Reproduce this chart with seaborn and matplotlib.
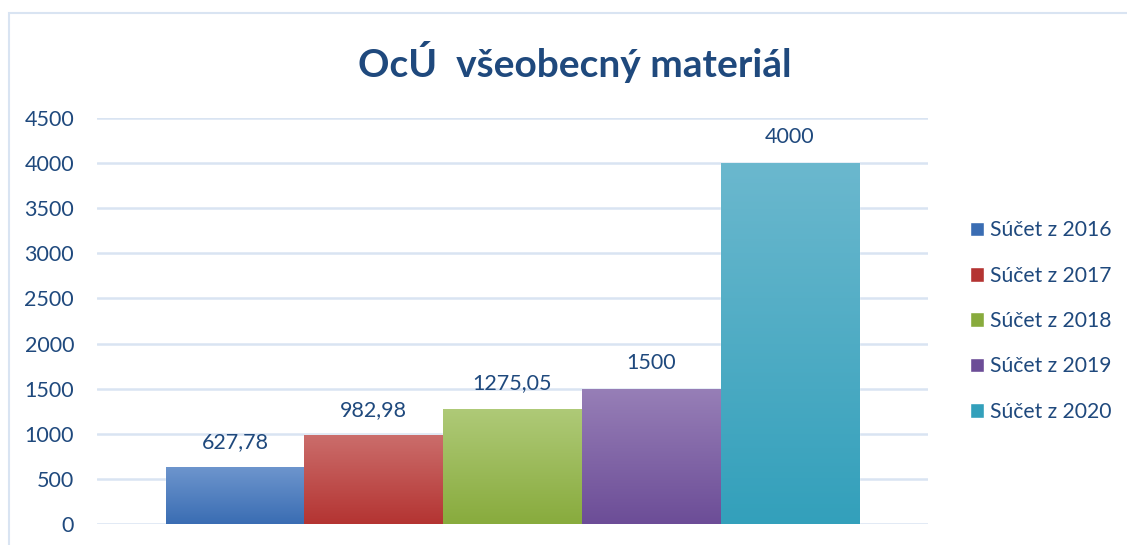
import matplotlib
matplotlib.use("Agg")
import matplotlib.pyplot as plt
import numpy as np
import pandas as pd
import seaborn as sns
from matplotlib.colors import LinearSegmentedColormap
from matplotlib.patches import Rectangle

series = ["Súčet z 2016", "Súčet z 2017", "Súčet z 2018", "Súčet z 2019", "Súčet z 2020"]
values = [627.78, 982.98, 1275.05, 1500, 4000]
value_labels = ["627,78", "982,98", "1275,05", "1500", "4000"]
top_colors = ["#6d95cd", "#cb6d6b", "#afca78", "#977fb7", "#6bb8ce"]
bottom_colors = ["#3a6db3", "#b43432", "#88ab3d", "#6c4d97", "#33a0bb"]

TEXT = "#1f497d"
GRID = "#d9e4f2"

df = pd.DataFrame({"group": [""] * len(series), "series": series, "value": values})

sns.set_theme(style="white")
plt.rcParams["font.family"] = ["Lato", "DejaVu Sans"]

fig = plt.figure(figsize=(11.27, 5.45), dpi=100)
ax = fig.add_axes([97 / 1127, 21 / 545, 831 / 1127, 406 / 545])

sns.barplot(data=df, x="group", y="value", hue="series", palette=bottom_colors,
            width=0.835, saturation=1, ax=ax, legend=True)

ax.set_ylim(0, 4500)
ax.set_xlim(-0.5, 0.5)
ax.set_yticks(np.arange(0, 4501, 500))
ax.yaxis.grid(True, color=GRID, linewidth=1.8)
ax.set_axisbelow(True)
for s in ax.spines.values():
    s.set_visible(False)
ax.tick_params(axis="y", length=0, labelsize=15.5, labelcolor=TEXT, pad=16.5)
ax.set_xticks([])
ax.set_xlabel("")
ax.set_ylabel("")

# vertical gradient on each bar
grad = np.linspace(0, 1, 256).reshape(-1, 1)
for patch, c_top, c_bot, lab in zip(ax.patches, top_colors, bottom_colors, value_labels):
    x0, y0 = patch.get_x(), patch.get_y()
    w, h = patch.get_width(), patch.get_height()
    cmap = LinearSegmentedColormap.from_list("g", [c_bot, c_top])
    im = ax.imshow(grad, cmap=cmap, aspect="auto", origin="lower",
                   extent=[x0, x0 + w, y0, y0 + h], zorder=patch.get_zorder() + 0.1)
    im.set_clip_path(patch)
    ax.annotate(lab, (x0 + w / 2, h), xytext=(0, 18.5), textcoords="offset points",
                ha="center", va="center", fontsize=15.5, color=TEXT)
ax.set_xlim(-0.5, 0.5)
ax.set_ylim(0, 4500)

handles = [Rectangle((0, 0), 1, 1, facecolor=c) for c in bottom_colors]
leg = ax.legend(handles, series, loc="center left", bbox_to_anchor=(1.04, 0.5),
                frameon=False, fontsize=15.2, handlelength=0.68, handleheight=0.68,
                handletextpad=0.3, labelspacing=1.2, borderaxespad=0)
for t in leg.get_texts():
    t.set_color(TEXT)

fig.text(575 / 1127, 1 - 62 / 545, "OcÚ  všeobecný materiál", ha="center", va="center",
         fontsize=28, fontweight="bold", color=TEXT)

# outer chart border
border = Rectangle((9 / 1127, -0.05), 1.2, 1 - 13 / 545 + 0.05, transform=fig.transFigure,
                   fill=False, edgecolor=GRID, linewidth=1.5)
fig.patches.append(border)

fig.savefig("out.png", dpi=100)
